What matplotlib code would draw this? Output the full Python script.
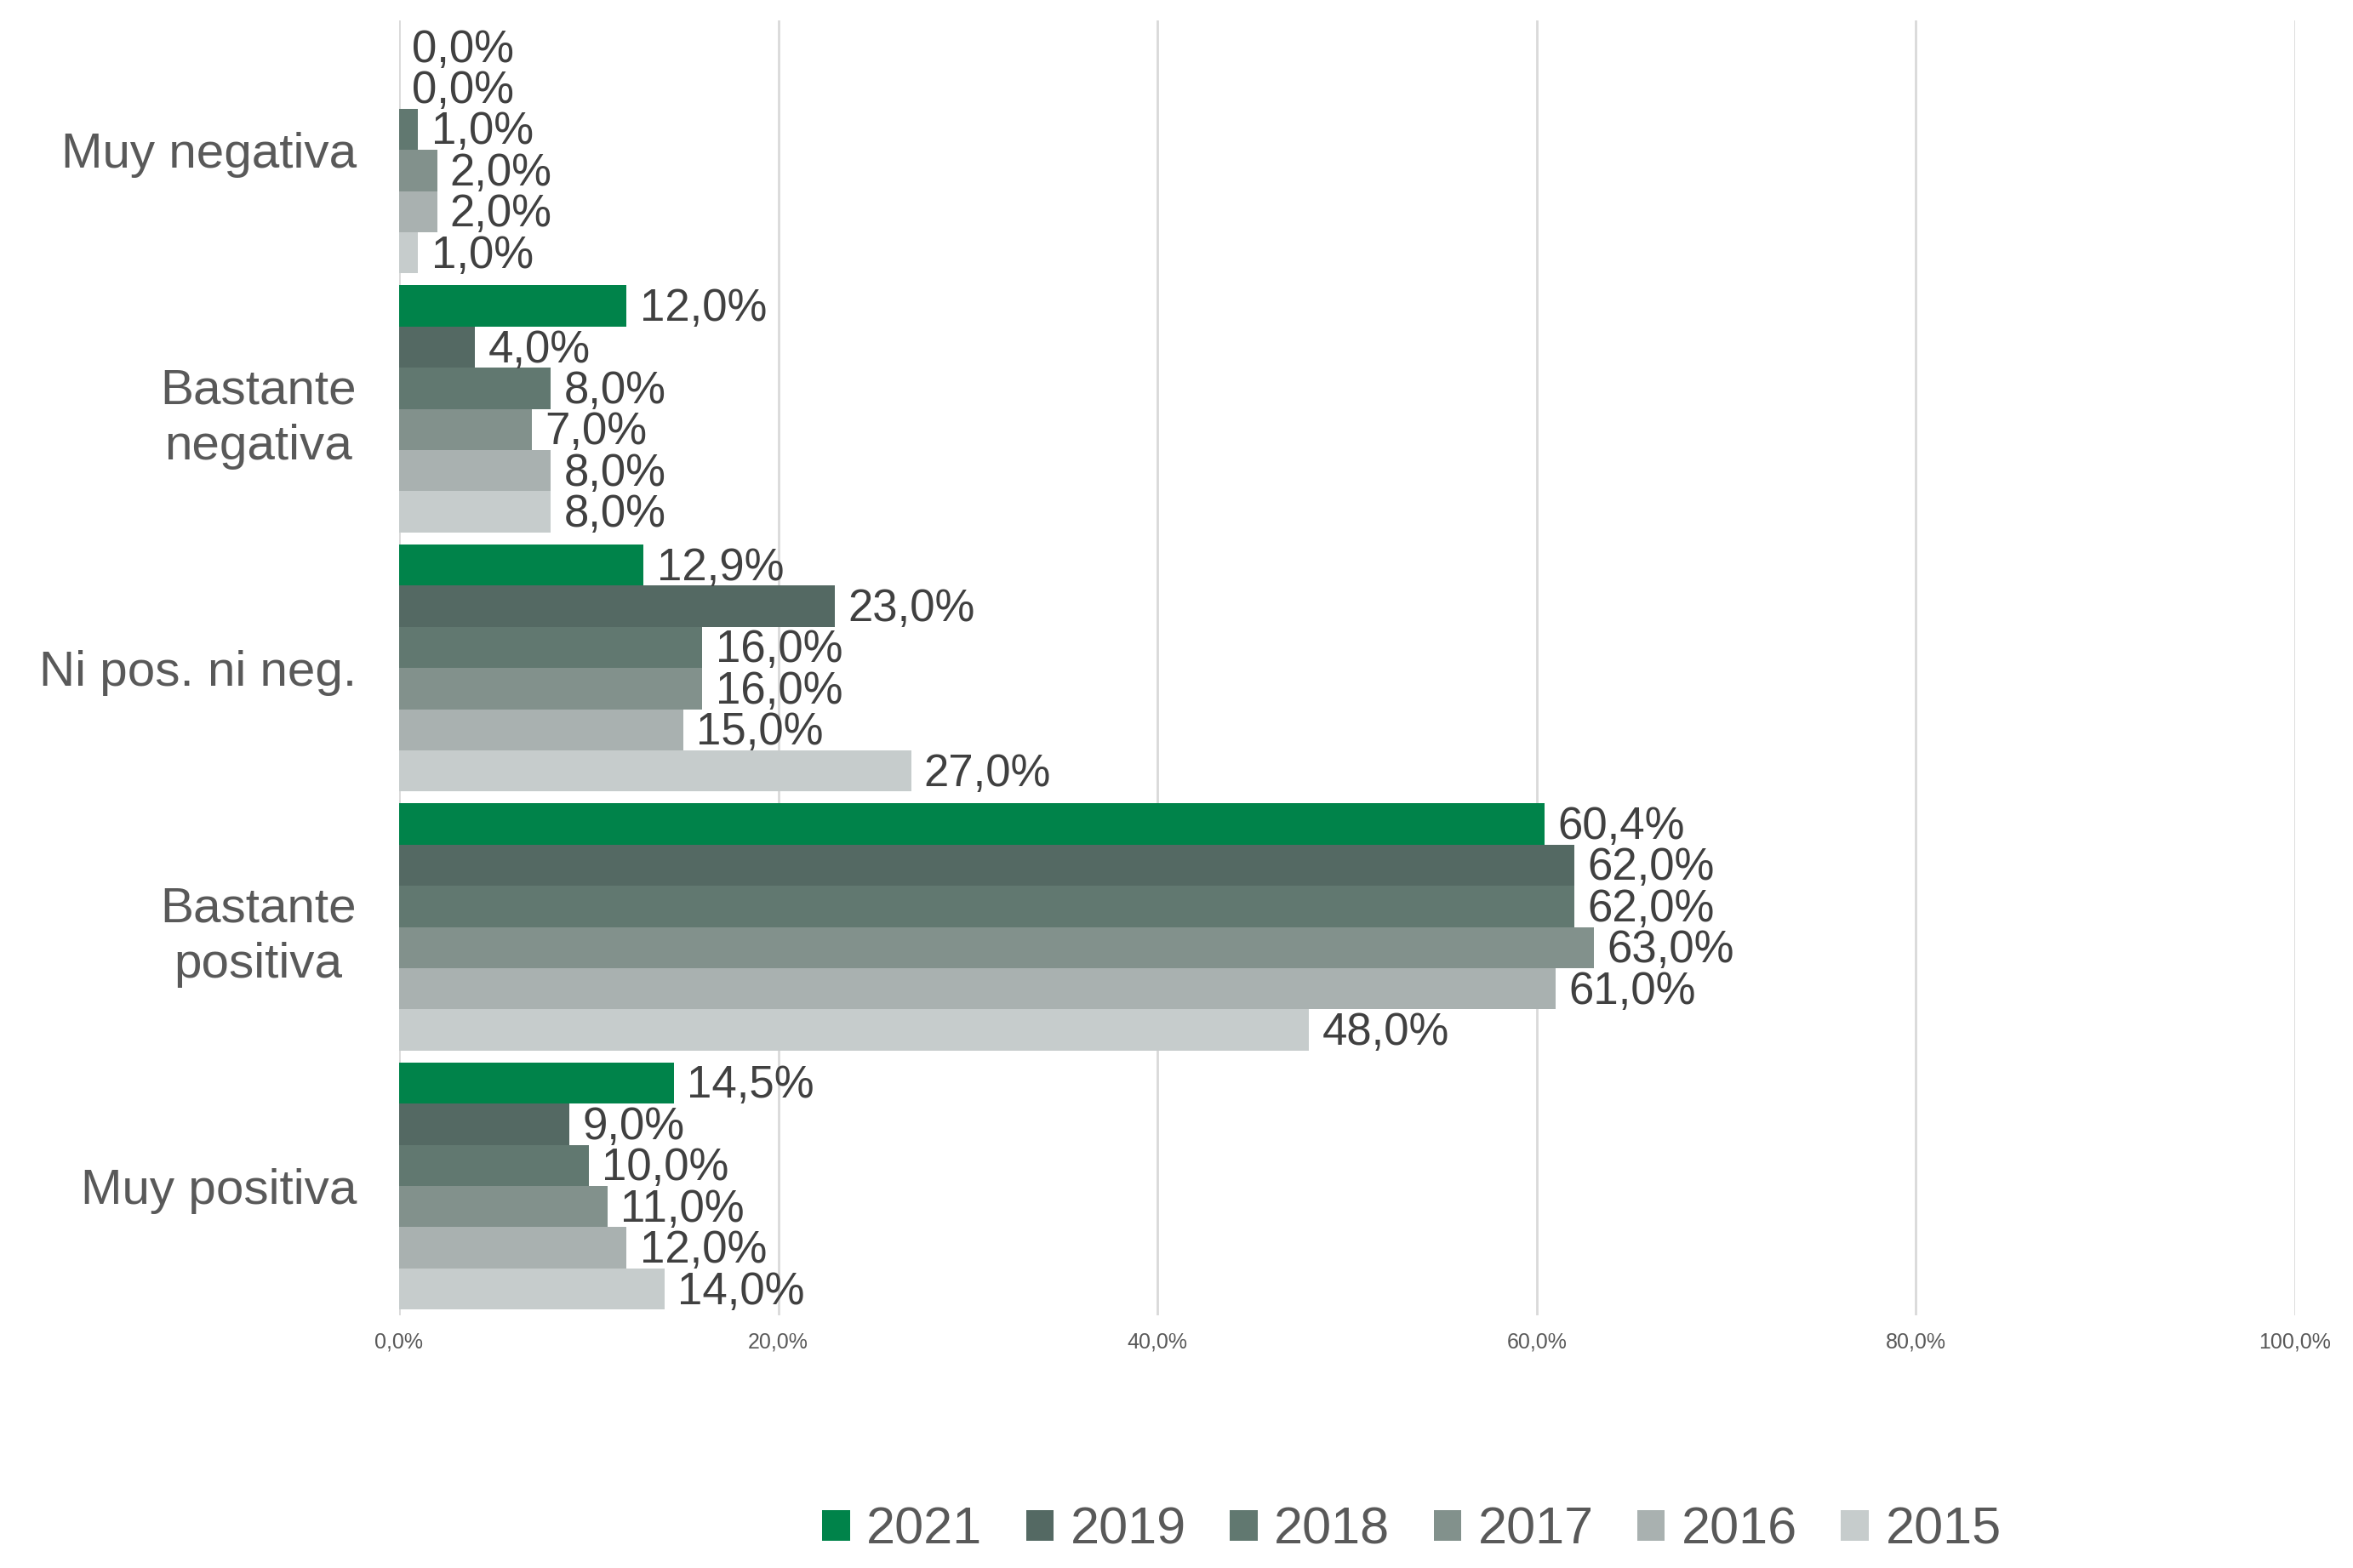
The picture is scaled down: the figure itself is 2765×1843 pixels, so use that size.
import matplotlib
matplotlib.use("Agg")
import matplotlib.pyplot as plt
import numpy as np

plt.rcParams['font.family'] = ['Liberation Sans', 'DejaVu Sans']

categories = ['Muy negativa', 'Bastante\nnegativa', 'Ni pos. ni neg.', 'Bastante\npositiva', 'Muy positiva']
years = ['2021', '2019', '2018', '2017', '2016', '2015']
v2021 = [0.0, 12.0, 12.9, 60.4, 14.5]
v2019 = [0.0, 4.0, 23.0, 62.0, 9.0]
v2018 = [1.0, 8.0, 16.0, 62.0, 10.0]
v2017 = [2.0, 7.0, 16.0, 63.0, 11.0]
v2016 = [2.0, 8.0, 15.0, 61.0, 12.0]
v2015 = [1.0, 8.0, 27.0, 48.0, 14.0]
series = [v2021, v2019, v2018, v2017, v2016, v2015]
colors = ['#00834A', '#546963', '#617870', '#82918C', '#A9B1B0', '#C6CCCC']

fig = plt.figure(figsize=(27.65, 18.43), dpi=100)
ax = fig.add_axes([0.1696, 0.161, 0.8058, 0.826])

bh = 0.159
y = np.arange(len(categories))
for i, (vals, col, yr) in enumerate(zip(series, colors, years)):
    pos = y - 2.5 * bh + i * bh
    ax.barh(pos, vals, height=bh, color=col, label=yr, zorder=3)
    for p, v in zip(pos, vals):
        ax.annotate(f'{v:.1f}%'.replace('.', ','), (v, p), xytext=(11, -2.5),
                    textcoords='offset points', va='center', ha='left',
                    fontsize=38, color='#404040', zorder=4)

ax.set_ylim(len(categories) - 0.5, -0.5)
ax.set_xlim(0, 100)
ax.set_xticks(np.arange(0, 101, 20))
ax.set_xticklabels([f'{t:.1f}%'.replace('.', ',') for t in np.arange(0, 101, 20)],
                   fontsize=18, color='#595959')
ax.set_yticks(y)
ax.set_yticklabels(categories, fontsize=42, color='#595959', linespacing=1.27,
                   multialignment='center')
for lbl in ax.get_yticklabels():
    lbl.set_y(lbl.get_position()[1])
ax.tick_params(axis='both', length=0)
ax.tick_params(axis='y', pad=36)
ax.tick_params(axis='x', pad=14)
ax.grid(axis='x', color='#D9D9D9', linewidth=2, zorder=0)
for s in ax.spines.values():
    s.set_visible(False)

fig.legend(loc='center', bbox_to_anchor=(0.600, 0.024), ncol=6, frameon=False,
           fontsize=44, handlelength=0.53, handleheight=0.53, handletextpad=0.32,
           columnspacing=0.84, labelcolor='#595959')

fig.savefig('out.png', dpi=100)
